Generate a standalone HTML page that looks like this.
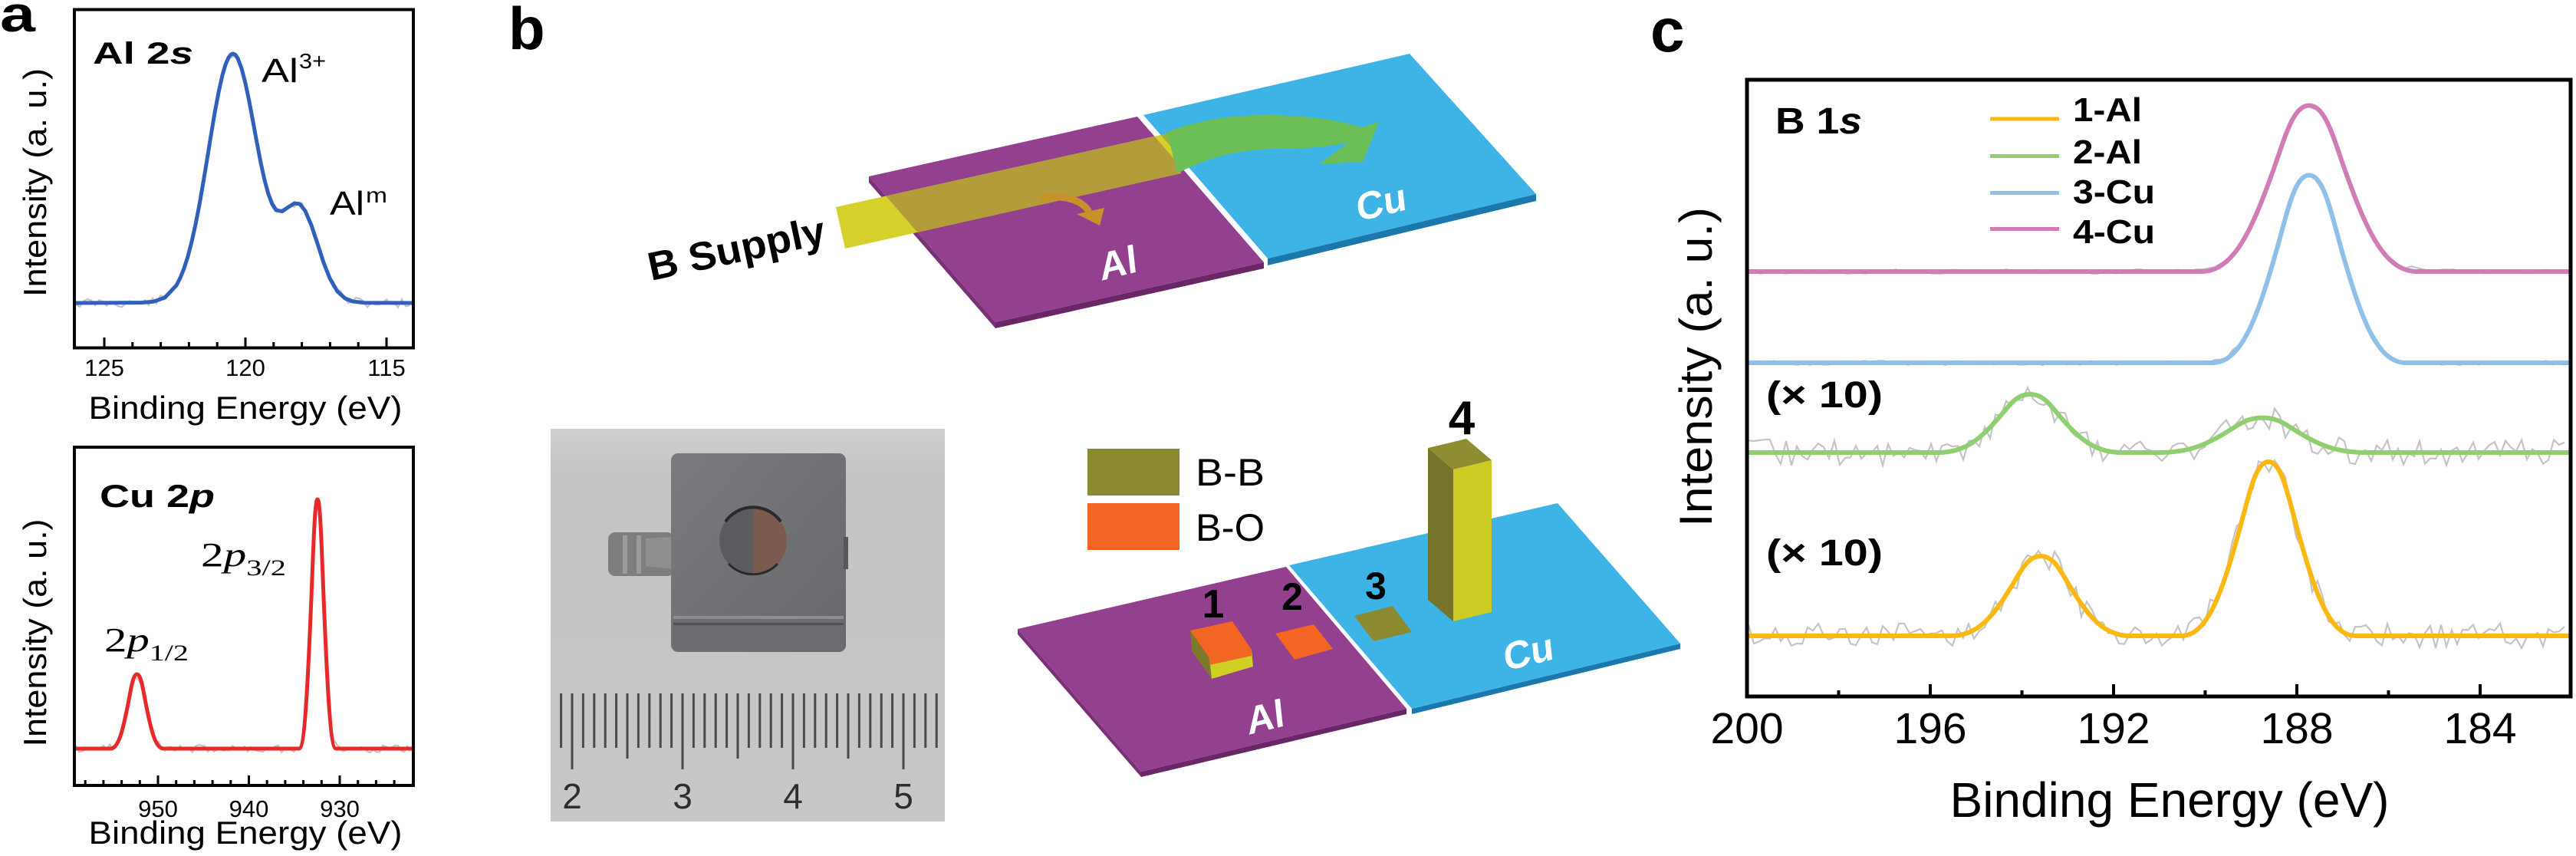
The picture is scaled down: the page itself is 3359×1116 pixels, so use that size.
<!DOCTYPE html>
<html><head><meta charset="utf-8"><style>html,body{margin:0;padding:0;background:#fff;}svg{display:block;}</style></head>
<body>
<svg xmlns="http://www.w3.org/2000/svg" width="3359" height="1116" viewBox="0 0 3359 1116" font-family="'Liberation Sans', Arial, sans-serif">
<defs>
<clipPath id="alTop"><polygon points="1133,230 1483,152 1648,342 1298,420"/></clipPath>
<clipPath id="cuTop"><polygon points="1491,150 1838,70 2003,253 1653,337"/></clipPath>
<clipPath id="fa1"><rect x="97" y="12" width="442" height="442"/></clipPath>
<clipPath id="fa2"><rect x="97" y="583" width="442" height="441"/></clipPath>
<clipPath id="fc"><rect x="2278" y="104" width="1074" height="804"/></clipPath>
<linearGradient id="photoBg" x1="0" y1="0" x2="0" y2="1">
<stop offset="0" stop-color="#cfcfcd"/><stop offset="0.12" stop-color="#c4c4c2"/><stop offset="1" stop-color="#c7c7c5"/>
</linearGradient>
<linearGradient id="holder" x1="0" y1="0" x2="1" y2="1">
<stop offset="0" stop-color="#7a7b7e"/><stop offset="1" stop-color="#67686b"/>
</linearGradient>
</defs>

<!-- panel labels -->
<text x="0" y="41" font-size="66" font-weight="bold" textLength="46" lengthAdjust="spacingAndGlyphs">a</text>
<text x="663" y="64" font-size="78" font-weight="bold">b</text>
<text x="2152" y="67" font-size="80" font-weight="bold">c</text>

<!-- ===== Panel a top: Al 2s ===== -->
<g id="nAl" clip-path="url(#fa1)"></g>
<polyline fill="none" stroke="#3060bb" stroke-width="5" stroke-linejoin="round" clip-path="url(#fa1)" points="97,395 185,394.5 200,393.3 215,388 230,372 235,362.3 240,350 245,334.2 250,315 255,292.4 260,267 265,238 270,208 275,177 280,147 285,120.5 290,98 294,84.3 298,75 301,71.1 304,70 307,71.5 310,76 315,89.2 320,108.5 325,132.3 330,159 335,186.2 340,212 345,235 350,253 355,266.2 360,274 368,275.6 376,270 384,265 391,266 398,275 406,293.6 414,317.7 422,342.5 430,362.7 440,380 450,389 460,393 475,394.7 539,395"/>
<rect x="97" y="12.5" width="442" height="441" fill="none" stroke="#000" stroke-width="4"/>
<path stroke="#000" stroke-width="3" fill="none" d="M136,453v-13 M172.8,453v-7 M209.6,453v-7 M246.4,453v-7 M283.2,453v-7 M320,453v-13 M356.8,453v-7 M393.6,453v-7 M430.4,453v-7 M467.2,453v-7 M504,453v-13"/>
<g font-size="31" text-anchor="middle">
<text x="136" y="490">125</text><text x="320" y="490">120</text><text x="504" y="490">115</text>
</g>
<text x="320" y="546" font-size="42" text-anchor="middle" textLength="409" lengthAdjust="spacingAndGlyphs">Binding Energy (eV)</text>
<text transform="translate(60,238) rotate(-90)" font-size="42" text-anchor="middle" textLength="298" lengthAdjust="spacingAndGlyphs">Intensity (a. u.)</text>
<text x="121" y="83" font-size="40" font-weight="bold" textLength="131" lengthAdjust="spacingAndGlyphs">Al 2<tspan font-style="italic">s</tspan></text>
<text x="341" y="107" font-size="44" textLength="48" lengthAdjust="spacingAndGlyphs">Al</text>
<text x="390" y="89" font-size="28" textLength="35" lengthAdjust="spacingAndGlyphs">3+</text>
<text x="430" y="280" font-size="44" textLength="45" lengthAdjust="spacingAndGlyphs">Al</text>
<text x="477" y="264" font-size="28" textLength="28" lengthAdjust="spacingAndGlyphs">m</text>

<!-- ===== Panel a bottom: Cu 2p ===== -->
<g id="nCu" clip-path="url(#fa2)"></g>
<path fill="none" stroke="#e8292a" stroke-width="5" stroke-linejoin="round" clip-path="url(#fa2)" d="M97,976 L144.1,976 C154.45,976 160.2,952.4 167.1,917.1 C170.9,897.5 173.4,879 178.6,879 C183.8,879 186.3,897.5 190.1,917.1 C197,952.4 202.75,976 213.1,976 L390,976 C397.2,976 401.2,897 406,778.7 C408.7,713.1 410.4,651 414,651 C417.6,651 419.3,713.1 422,778.7 C426.8,897 430.8,976 438,976 L539,976"/>
<rect x="97" y="583" width="442" height="441" fill="none" stroke="#000" stroke-width="4"/>
<path stroke="#000" stroke-width="3" fill="none" d="M111.2,1024v-7 M134.9,1024v-7 M158.6,1024v-7 M182.3,1024v-7 M206,1024v-13 M229.7,1024v-7 M253.4,1024v-7 M277.1,1024v-7 M300.8,1024v-7 M324.5,1024v-13 M348.2,1024v-7 M371.9,1024v-7 M395.6,1024v-7 M419.3,1024v-7 M443,1024v-13 M466.7,1024v-7 M490.4,1024v-7 M514.1,1024v-7"/>
<g font-size="31" text-anchor="middle">
<text x="206" y="1065">950</text><text x="324.5" y="1065">940</text><text x="443" y="1065">930</text>
</g>
<text x="320" y="1100" font-size="42" text-anchor="middle" textLength="409" lengthAdjust="spacingAndGlyphs">Binding Energy (eV)</text>
<text transform="translate(60,825) rotate(-90)" font-size="42" text-anchor="middle" textLength="297" lengthAdjust="spacingAndGlyphs">Intensity (a. u.)</text>
<text x="130" y="661" font-size="42" font-weight="bold" textLength="150" lengthAdjust="spacingAndGlyphs">Cu 2<tspan font-style="italic">p</tspan></text>
<text x="262" y="738" font-family="'Liberation Serif', serif" font-size="44" textLength="111" lengthAdjust="spacingAndGlyphs">2<tspan font-style="italic">p</tspan><tspan font-size="30" dy="12">3/2</tspan></text>
<text x="136" y="849" font-family="'Liberation Serif', serif" font-size="44" textLength="110" lengthAdjust="spacingAndGlyphs">2<tspan font-style="italic">p</tspan><tspan font-size="30" dy="12">1/2</tspan></text>

<!-- ===== Panel b top: schematic ===== -->
<polygon points="1133,230 1298,420 1298,428 1133,238" fill="#7a3077"/>
<polygon points="1298,420 1648,342 1648,350 1298,428" fill="#6a2768"/>
<polygon points="1133,230 1483,152 1648,342 1298,420" fill="#93408e"/>
<polygon points="1653,337 2003,253 2003,262 1653,346" fill="#1b78ad"/>
<polygon points="1491,150 1838,70 2003,253 1653,337" fill="#3db3e6"/>
<polygon points="1090,270 1540,170 1540,226 1102,324" fill="#d6d12a"/>
<polygon points="1090,270 1540,170 1540,226 1102,324" fill="#b59c3b" clip-path="url(#alTop)"/>
<polygon points="1090,270 1540,170 1540,226 1102,324" fill="#93b545" clip-path="url(#cuTop)"/>
<path d="M1522,172 C1560,158 1600,150 1650,150 C1700,150 1745,156 1775,166 L1798,159 L1777,211 L1720,214 L1758,186 C1730,192 1700,194 1660,194 C1610,195 1570,208 1535,226 Z" fill="#6cbf56"/>
<path d="M1355,258 Q1405,252 1420,276" fill="none" stroke="#c8922a" stroke-width="9"/>
<polygon points="1404,279 1440,271 1434,294" fill="#c8922a"/>
<text transform="translate(849,366) rotate(-12)" font-size="52" font-weight="bold" textLength="235" lengthAdjust="spacingAndGlyphs">B Supply</text>
<text transform="translate(1460,360) rotate(-14) skewX(-8)" font-size="50" font-weight="bold" fill="#fff" text-anchor="middle">Al</text>
<text transform="translate(1803,281) rotate(-14) skewX(-8)" font-size="50" font-weight="bold" fill="#fff" text-anchor="middle">Cu</text>

<!-- ===== Panel b bottom left: photo ===== -->
<rect x="718" y="559" width="514" height="512" fill="url(#photoBg)"/>
<rect x="793" y="694" width="86" height="57" rx="9" fill="#7e7e7f"/>
<rect x="812" y="698" width="6" height="50" fill="#9c9c9c"/>
<rect x="830" y="698" width="6" height="50" fill="#9a9a9a"/>
<path d="M842,702 L878,700 L878,742 L842,738 Z" fill="#8f8f90"/>
<rect x="875" y="591" width="228" height="259" rx="9" fill="url(#holder)"/>
<rect x="878" y="806" width="222" height="42" rx="5" fill="#6b6c6f"/>
<rect x="878" y="803" width="222" height="4" fill="#8c8d8f"/>
<rect x="878" y="812" width="222" height="3" fill="#4f5154"/>
<rect x="1100" y="700" width="6" height="42" fill="#56585b"/>
<path d="M982,661 A44,44 0 0 0 982,749 Z" fill="#5a5c5f"/>
<path d="M982,661 A44,44 0 0 1 982,749 Z" fill="#7b5a4f"/>
<path d="M946,680 A44,44 0 0 1 1018,680" fill="none" stroke="#2a2a2a" stroke-width="4"/>
<path d="M950,735 A44,44 0 0 0 1014,735" fill="none" stroke="#2a2a2a" stroke-width="3"/>
<path stroke="#4a4a4a" stroke-width="3" fill="none" d="M731.6,904v71 M746,904v99 M760.4,904v71 M774.8,904v71 M789.2,904v71 M803.6,904v71 M818,904v85 M832.4,904v71 M846.8,904v71 M861.2,904v71 M875.6,904v71 M890,904v99 M904.4,904v71 M918.8,904v71 M933.2,904v71 M947.6,904v71 M962,904v85 M976.4,904v71 M990.8,904v71 M1005.2,904v71 M1019.6,904v71 M1034,904v99 M1048.4,904v71 M1062.8,904v71 M1077.2,904v71 M1091.6,904v71 M1106,904v85 M1120.4,904v71 M1134.8,904v71 M1149.2,904v71 M1163.6,904v71 M1178,904v99 M1192.4,904v71 M1206.8,904v71 M1221.2,904v71"/>
<g font-size="46" fill="#2e2e2e" text-anchor="middle">
<text x="746" y="1054">2</text><text x="890" y="1054">3</text><text x="1034" y="1054">4</text><text x="1178" y="1054">5</text>
</g>

<!-- ===== Panel b bottom right: bars ===== -->
<rect x="1418" y="585" width="120" height="61" fill="#8b8a2e"/>
<rect x="1418" y="656" width="120" height="61" fill="#f26522"/>
<text x="1559" y="633" font-size="50" textLength="90" lengthAdjust="spacingAndGlyphs">B-B</text>
<text x="1559" y="705" font-size="50" textLength="90" lengthAdjust="spacingAndGlyphs">B-O</text>
<polygon points="1327,820 1488,1006 1488,1013 1327,827" fill="#7a3077"/>
<polygon points="1488,1006 1834,924 1834,931 1488,1013" fill="#6a2768"/>
<polygon points="1327,820 1677,739 1834,924 1488,1006" fill="#93408e"/>
<polygon points="1841,924 2191,839 2191,846 1841,931" fill="#1b78ad"/>
<polygon points="1681,737 2031,656 2191,839 1841,924" fill="#3db3e6"/>
<polygon points="1552,822 1577,858 1580,885 1554,849" fill="#7b7a2a"/>
<polygon points="1577,858 1632,847 1634,869 1580,885" fill="#cfcf25"/>
<polygon points="1577,858 1632,847 1632,855 1577,867" fill="#f26522"/>
<polygon points="1552,822 1607,810 1632,847 1577,858" fill="#f26522"/>
<polygon points="1663,826 1713,814 1738,846 1688,860" fill="#f26522"/>
<polygon points="1766,803 1816,790 1841,824 1791,836" fill="#8b8a2e"/>
<polygon points="1862,584 1895,612 1895,810 1862,782" fill="#75742a"/>
<polygon points="1895,612 1945,600 1945,798 1895,810" fill="#cccc24"/>
<polygon points="1862,584 1912,572 1945,600 1895,612" fill="#8e8d32"/>
<g font-weight="bold" text-anchor="middle">
<text x="1582" y="805" font-size="52">1</text>
<text x="1685" y="795" font-size="50">2</text>
<text x="1794" y="781" font-size="50">3</text>
<text x="1906" y="566" font-size="62">4</text>
</g>
<text transform="translate(1652,952) rotate(-14) skewX(-8)" font-size="50" font-weight="bold" fill="#fff" text-anchor="middle">Al</text>
<text transform="translate(1995,867) rotate(-14) skewX(-8)" font-size="50" font-weight="bold" fill="#fff" text-anchor="middle">Cu</text>

<!-- ===== Panel c ===== -->
<g id="nC" clip-path="url(#fc)"></g>
<g fill="none" stroke-width="6" stroke-linejoin="round" clip-path="url(#fc)">
<path stroke="#d07db6" d="M2278,354 L2870,354 C2912.3,354 2935.8,301.4 2964,222.6 C2979.7,178.8 2989.9,137.5 3011,137.5 C3032.2,137.5 3042.3,178.8 3058,222.6 C3086.2,301.4 3109.7,354 3152,354 L3352,354"/>
<path stroke="#8fc0ea" d="M2278,473 L2885,473 C2922.8,473 2943.8,413.6 2969,324.6 C2983,275.2 2992.1,228.5 3011,228.5 C3029.9,228.5 3039,275.2 3053,324.6 C3078.2,413.6 3099.2,473 3137,473 L3352,473"/>
<path stroke="#8fcf70" d="M2278,590 L2527,590 C2563,590 2583,571.5 2607,543.9 C2620.3,528.5 2629,514 2647,514 C2665,514 2673.7,528.5 2687,543.9 C2711,571.5 2731,590 2767,590 L2815,590 C2855.5,590 2878,579 2905,562.4 C2920,553.3 2929.75,544.6 2950,544.6 C2970.25,544.6 2980,553.3 2995,562.4 C3022,579 3044.5,590 3085,590 L3352,590"/>
<path stroke="#fbb812" d="M2278,829 L2544,829 C2579.1,829 2598.6,803.7 2622,765.9 C2635,744.9 2643.45,725 2661,725 C2678.55,725 2687,744.9 2700,765.9 C2723.4,803.7 2742.9,829 2778,829 L2844,829 C2878.2,829 2897.2,773.8 2920,691.2 C2932.7,645.4 2940.9,602 2958,602 C2975.1,602 2983.3,645.4 2996,691.2 C3018.8,773.8 3037.8,829 3072,829 L3352,829"/>
</g>
<rect x="2278" y="104" width="1074" height="804" fill="none" stroke="#000" stroke-width="5"/>
<path stroke="#000" stroke-width="4" fill="none" d="M2397.5,908v-8 M2517,908v-16 M2636.5,908v-8 M2756,908v-16 M2875.5,908v-8 M2995,908v-16 M3114.5,908v-8 M3234,908v-16"/>
<g font-size="57" text-anchor="middle">
<text x="2278" y="969">200</text><text x="2517" y="969">196</text><text x="2756" y="969">192</text><text x="2995" y="969">188</text><text x="3234" y="969">184</text>
</g>
<text x="2829" y="1065" font-size="64" text-anchor="middle" textLength="573" lengthAdjust="spacingAndGlyphs">Binding Energy (eV)</text>
<text transform="translate(2232,478.5) rotate(-90)" font-size="60" text-anchor="middle" textLength="417" lengthAdjust="spacingAndGlyphs">Intensity (a. u.)</text>
<text x="2315" y="174" font-size="48" font-weight="bold" textLength="113" lengthAdjust="spacingAndGlyphs">B 1<tspan font-style="italic">s</tspan></text>
<text x="2303" y="531" font-size="48" font-weight="bold" textLength="152" lengthAdjust="spacingAndGlyphs">(× 10)</text>
<text x="2303" y="737" font-size="48" font-weight="bold" textLength="152" lengthAdjust="spacingAndGlyphs">(× 10)</text>
<g stroke-width="5">
<line x1="2595" y1="155" x2="2685" y2="155" stroke="#fbb812"/>
<line x1="2595" y1="203.5" x2="2685" y2="203.5" stroke="#8fcf70"/>
<line x1="2595" y1="251.5" x2="2685" y2="251.5" stroke="#8fc0ea"/>
<line x1="2595" y1="298.5" x2="2685" y2="298.5" stroke="#d07db6"/>
</g>
<g font-size="44" font-weight="bold">
<text x="2703" y="158" textLength="90" lengthAdjust="spacingAndGlyphs">1-Al</text>
<text x="2703" y="213" textLength="90" lengthAdjust="spacingAndGlyphs">2-Al</text>
<text x="2703" y="265" textLength="107" lengthAdjust="spacingAndGlyphs">3-Cu</text>
<text x="2703" y="317" textLength="107" lengthAdjust="spacingAndGlyphs">4-Cu</text>
</g>
</svg>
<script>
(function(){
var NS='http://www.w3.org/2000/svg';
function rnd(seed){var s=seed;return function(){s=(s*9301+49297)%233280;return s/233280;};}
function g(x,x0,A,s){return A*Math.exp(-(x-x0)*(x-x0)/(2*s*s));}
function add(gid,f,x0,x1,step,amp,seed){
 var r=rnd(seed),pts=[];
 for(var x=x0;x<=x1;x+=step){pts.push(x.toFixed(1)+','+(f(x)+(r()*2-1)*amp).toFixed(1));}
 var p=document.createElementNS(NS,'polyline');
 p.setAttribute('points',pts.join(' '));p.setAttribute('fill','none');
 p.setAttribute('stroke','#c4c4c4');p.setAttribute('stroke-width','2.2');
 document.getElementById(gid).appendChild(p);
}
add('nAl',function(x){return 395-g(x,303.6,325,32)-g(x,391,121,24);},99,537,5,6,11);
add('nCu',function(x){return 976-g(x,178.6,97,11.5)-g(x,414,325,8);},99,537,4,5,23);
add('nC',function(x){return 354-g(x,3011,216.5,47);},2280,3350,8,3,37);
add('nC',function(x){return 473-g(x,3011,244.5,42);},2280,3350,8,3,51);
add('nC',function(x){return 590-g(x,2647,76,40)-g(x,2950,45.4,45);},2280,3350,7,17,71);
add('nC',function(x){return 829-g(x,2661,104,39)-g(x,2958,227,38);},2280,3350,7,17,97);
})();
</script>
</body></html>
